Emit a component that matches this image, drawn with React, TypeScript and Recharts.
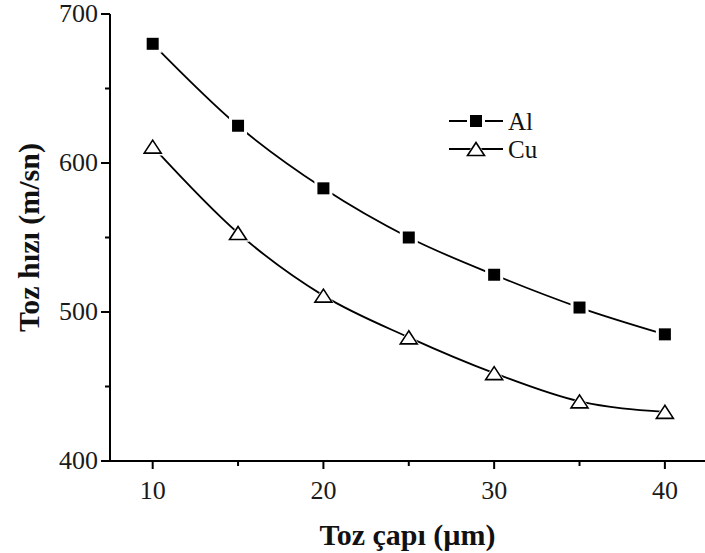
import { Line, LineChart, XAxis, YAxis } from "recharts";

const DIAMETERS = [10, 15, 20, 25, 30, 35, 40];
const AL_SPEED = [680, 625, 583, 550, 525, 503, 485];
const CU_SPEED = [611, 553, 511, 483, 459, 440, 433];

const X_TICKS = [10, 15, 20, 25, 30, 35, 40];
const X_LABELED = [10, 20, 30, 40];
const Y_TICKS = [400, 450, 500, 550, 600, 650, 700];
const Y_LABELED = [400, 500, 600, 700];

const SERIES = [
  { key: "Al", marker: "square" },
  { key: "Cu", marker: "triangle" },
] as const;

const FONT = '"Liberation Serif", "Times New Roman", serif';

const rows = DIAMETERS.map((d, i) => ({ d, Al: AL_SPEED[i], Cu: CU_SPEED[i] }));

// Origin tarzı işaretler: çizgi işaretin etrafında biraz kesiliyor
function Square({ cx, cy, halo = true }: any) {
  if (cx == null || cy == null) return null;
  return (
    <g>
      {halo && <rect x={cx - 9} y={cy - 9} width={18} height={18} fill="#fff" />}
      <rect x={cx - 6} y={cy - 6} width={12} height={12} fill="#000" />
    </g>
  );
}

function Triangle({ cx, cy, halo = true }: any) {
  if (cx == null || cy == null) return null;
  const pts = (s: number) =>
    `${cx},${cy - 6.5 * s} ${cx - 8.5 * s},${cy + 6.5 * s} ${cx + 8.5 * s},${cy + 6.5 * s}`;
  return (
    <g>
      {halo && <polygon points={pts(1.35)} fill="#fff" />}
      <polygon points={pts(1)} fill="#fff" stroke="#000" strokeWidth={1.6} />
    </g>
  );
}

function XTick({ x, y, payload }: any) {
  const major = X_LABELED.includes(payload.value);
  return (
    <g>
      <line x1={x} y1={y} x2={x} y2={y + (major ? 8 : 5)} stroke="#000" strokeWidth={2} />
      {major && (
        <text x={x} y={y + 38} textAnchor="middle" fontFamily={FONT} fontSize={26} fill="#1a1a1a">
          {payload.value}
        </text>
      )}
    </g>
  );
}

function YTick({ x, y, payload }: any) {
  const major = Y_LABELED.includes(payload.value);
  return (
    <g>
      <line x1={x} y1={y} x2={x - (major ? 9 : 5)} y2={y} stroke="#000" strokeWidth={2} />
      {major && (
        <text
          x={x - 12}
          y={y + 8}
          textAnchor="end"
          fontFamily={FONT}
          fontSize={26}
          fill="#1a1a1a"
        >
          {payload.value}
        </text>
      )}
    </g>
  );
}

function LegendBox() {
  return (
    <div
      style={{
        position: "absolute",
        left: 449,
        top: 107,
        fontFamily: FONT,
        fontSize: 25,
        color: "#111",
      }}
    >
      {SERIES.map((s) => (
        <div key={s.key} style={{ display: "flex", alignItems: "center", height: 28 }}>
          <svg width={54} height={20}>
            <line x1={0} y1={10} x2={54} y2={10} stroke="#000" strokeWidth={1.8} />
            {s.marker === "square" ? (
              <Square cx={27} cy={10} />
            ) : (
              <Triangle cx={27} cy={10} />
            )}
          </svg>
          <span style={{ marginLeft: 5, lineHeight: 1 }}>{s.key}</span>
        </div>
      ))}
    </div>
  );
}

export default function App() {
  return (
    <div style={{ position: "absolute", left: 0, top: 0, width: 705, height: 553, background: "#fff" }}>
      <LineChart width={705} height={553} data={rows} margin={{ top: 14, right: 0, bottom: 0, left: 0 }}>
        <XAxis
          dataKey="d"
          type="number"
          domain={[7.5, 42.35]}
          ticks={X_TICKS}
          interval={0}
          height={92}
          tickSize={0}
          tickMargin={0}
          tick={<XTick />}
          axisLine={{ stroke: "#000", strokeWidth: 2 }}
          label={{
            content: ({ viewBox }: any) => (
              <text
                x={viewBox.x + viewBox.width / 2}
                y={viewBox.y + 84}
                textAnchor="middle"
                fontFamily={FONT}
                fontSize={30}
                fontWeight="bold"
                fill="#111"
              >
                Toz çapı (µm)
              </text>
            ),
          }}
        />
        <YAxis
          type="number"
          domain={[400, 700]}
          ticks={Y_TICKS}
          interval={0}
          width={110}
          tickSize={0}
          tickMargin={0}
          tick={<YTick />}
          axisLine={{ stroke: "#000", strokeWidth: 2 }}
          label={{
            content: ({ viewBox }: any) => {
              const cx = viewBox.x + 28;
              const cy = viewBox.y + viewBox.height / 2;
              return (
                <text
                  x={cx}
                  y={cy}
                  transform={`rotate(-90, ${cx}, ${cy})`}
                  textAnchor="middle"
                  dominantBaseline="central"
                  fontFamily={FONT}
                  fontSize={30}
                  fontWeight="bold"
                  fill="#111"
                >
                  Toz hızı (m/sn)
                </text>
              );
            },
          }}
        />
        <Line
          dataKey="Al"
          type="monotone"
          stroke="#000"
          strokeWidth={1.8}
          dot={<Square />}
          activeDot={false}
          isAnimationActive={false}
        />
        <Line
          dataKey="Cu"
          type="monotone"
          stroke="#000"
          strokeWidth={1.8}
          dot={<Triangle />}
          activeDot={false}
          isAnimationActive={false}
        />
      </LineChart>
      <LegendBox />
    </div>
  );
}
